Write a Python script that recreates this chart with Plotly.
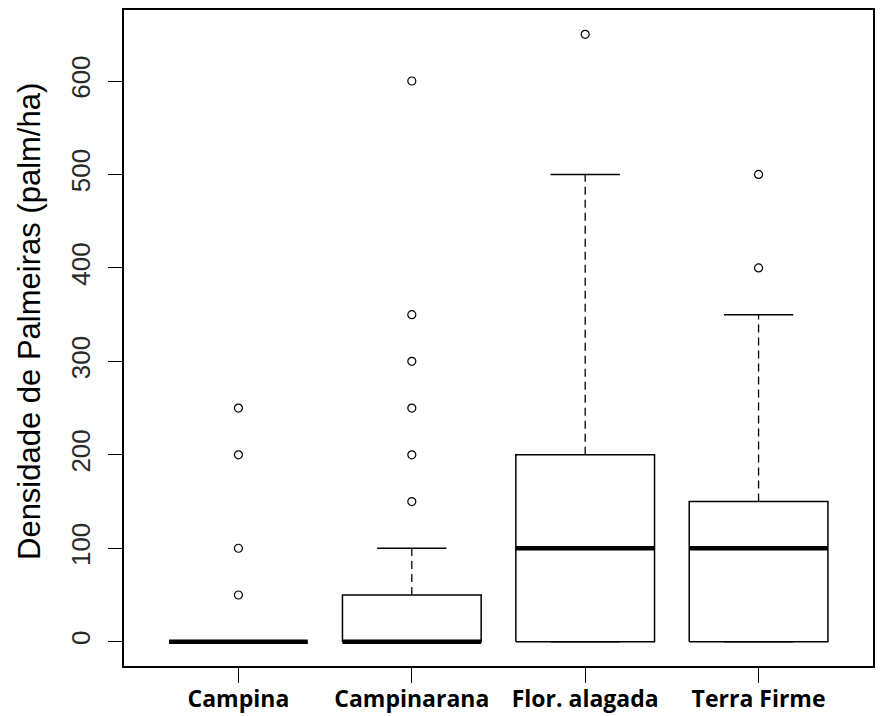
import plotly.graph_objects as go

categories = ["Campina", "Campinarana", "Flor. alagada", "Terra Firme"]
q1 = [0, 0, 0, 0]
median = [0, 0, 100, 100]
q3 = [0, 50, 200, 150]
lower_whisker = [0, 0, 0, 0]
upper_whisker = [0, 100, 500, 350]
outliers = [
    [50, 100, 200, 250],
    [150, 200, 250, 300, 350, 600],
    [650],
    [400, 500],
]
y_ticks = [0, 100, 200, 300, 400, 500, 600]
y_title = "Densidade de Palmeiras (palm/ha)"

BOXWEX = 0.8
STAPLE = 0.4

fig = go.Figure()
for i, cat in enumerate(categories):
    xc = i + 1
    hw = BOXWEX / 2
    sw = STAPLE / 2
    # upper whisker (dashed)
    fig.add_trace(go.Scatter(x=[xc, xc], y=[q3[i], upper_whisker[i]], mode="lines",
                             line=dict(color="black", width=1.3, dash="8px,5px"),
                             hoverinfo="skip", showlegend=False))
    # lower whisker (dashed)
    fig.add_trace(go.Scatter(x=[xc, xc], y=[q1[i], lower_whisker[i]], mode="lines",
                             line=dict(color="black", width=1.3, dash="8px,5px"),
                             hoverinfo="skip", showlegend=False))
    # staples
    for v in (upper_whisker[i], lower_whisker[i]):
        fig.add_trace(go.Scatter(x=[xc - sw, xc + sw], y=[v, v], mode="lines",
                                 line=dict(color="black", width=1.5),
                                 hoverinfo="skip", showlegend=False))
    # box
    fig.add_trace(go.Scatter(x=[xc - hw, xc + hw, xc + hw, xc - hw, xc - hw],
                             y=[q1[i], q1[i], q3[i], q3[i], q1[i]],
                             mode="lines", fill="toself", fillcolor="white",
                             line=dict(color="black", width=1.5),
                             hoverinfo="skip", showlegend=False))
    # median
    fig.add_trace(go.Scatter(x=[xc - hw, xc + hw], y=[median[i], median[i]], mode="lines",
                             line=dict(color="black", width=4.5),
                             hoverinfo="skip", showlegend=False))
    # outliers
    fig.add_trace(go.Scatter(x=[xc] * len(outliers[i]), y=outliers[i], mode="markers",
                             marker=dict(symbol="circle-open", size=8, color="black",
                                         line=dict(width=1.2)),
                             name=cat, showlegend=False))

fig.update_layout(
    width=889, height=716,
    margin=dict(l=124, r=16, t=10, b=50),
    paper_bgcolor="white", plot_bgcolor="white",
    showlegend=False,
    xaxis=dict(
        range=[0.34, 4.66], automargin=False,
        tickmode="array", tickvals=[1, 2, 3, 4], ticktext=categories,
        ticks="outside", ticklen=15, tickwidth=1.2, tickcolor="black",
        ticklabelstandoff=-3,
        tickfont=dict(family="Open Sans", size=23, color="black", weight="bold"),
        showline=True, mirror=True, linecolor="black", linewidth=1.5,
        showgrid=False, zeroline=False,
    ),
    yaxis=dict(
        range=[-26, 676], automargin=False,
        tickmode="array", tickvals=y_ticks, ticktext=[str(v) for v in y_ticks],
        ticks="outside", ticklen=14, tickwidth=1.2, tickcolor="black",
        tickangle=-90, ticklabelstandoff=8,
        tickfont=dict(family="Liberation Sans", size=26, color="#2a2a2a"),
        showline=True, mirror=True, linecolor="black", linewidth=1.5,
        showgrid=False, zeroline=False,
    ),
    annotations=[dict(
        text=y_title, textangle=-90, showarrow=False,
        xref="paper", yref="paper", x=(29 - 124) / 749, y=(666 - 322) / 656,
        xanchor="center", yanchor="middle",
        font=dict(family="Liberation Sans", size=31, color="black"),
    )],
)

fig.write_html("out.html", config={"displayModeBar": False},
               post_script="document.body.style.margin='0px';")
